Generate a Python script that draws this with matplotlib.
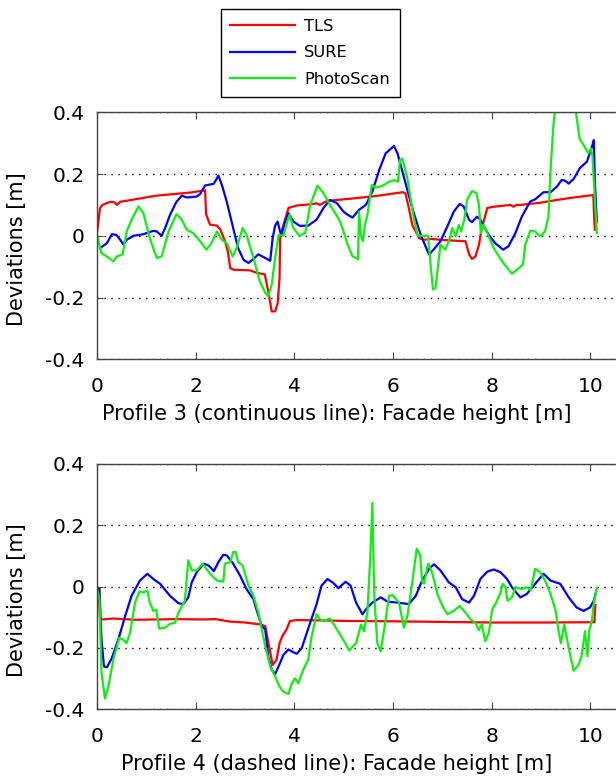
import matplotlib
matplotlib.use('Agg')
import matplotlib.pyplot as plt

plt.rcParams['font.family'] = ['DejaVu Sans']

# Profile 3 (continuous line)
p3_tls_x = [0.0, 0.06, 0.11, 0.27, 0.36, 0.40, 0.47, 1.21, 1.89, 2.19, 2.21, 2.29, 2.43, 2.5, 2.6, 2.65, 2.70,
            2.77, 3.1, 3.24, 3.4, 3.47, 3.54, 3.61, 3.66, 3.70, 3.71, 3.75, 3.88, 4.05, 4.32, 4.45, 4.52, 4.66,
            5.13, 5.62, 6.19, 6.25, 6.32, 6.39, 6.53, 6.63, 6.76, 6.96, 7.27, 7.47, 7.54, 7.6, 7.67, 7.74, 7.8,
            7.91, 8.04, 8.38, 8.44, 8.5, 8.58, 8.98, 9.32, 9.66, 10.06, 10.07, 10.09]
p3_tls_y = [0.01, 0.09, 0.10, 0.11, 0.108, 0.10, 0.11, 0.13, 0.14, 0.147, 0.07, 0.036, 0.033, 0.02, -0.02, -0.05,
            -0.105, -0.11, -0.112, -0.12, -0.125, -0.18, -0.245, -0.245, -0.22, -0.137, -0.01, 0.02, 0.09, 0.098,
            0.102, 0.105, 0.10, 0.113, 0.12, 0.128, 0.141, 0.138, 0.09, 0.035, -0.008, -0.013, -0.01, -0.013,
            -0.016, -0.018, -0.06, -0.075, -0.067, -0.03, 0.025, 0.09, 0.094, 0.10, 0.094, 0.10, 0.10, 0.107,
            0.116, 0.124, 0.132, 0.08, 0.02]

p3_sure_x = [0.06, 0.2, 0.3, 0.39, 0.47, 0.53, 0.6, 0.74, 0.94, 1.14, 1.21, 1.31, 1.38, 1.48, 1.61, 1.72, 1.82,
             2.02, 2.09, 2.19, 2.36, 2.41, 2.46, 2.53, 2.63, 2.76, 2.86, 2.97, 3.07, 3.17, 3.27, 3.34, 3.41, 3.51,
             3.56, 3.61, 3.66, 3.71, 3.74, 3.8, 3.88, 3.98, 4.11, 4.28, 4.45, 4.59, 4.72, 4.86, 4.99, 5.08, 5.18,
             5.31, 5.45, 5.58, 5.72, 5.85, 6.02, 6.09, 6.19, 6.29, 6.39, 6.56, 6.73, 6.83, 6.96, 7.1, 7.23, 7.35,
             7.43, 7.54, 7.6, 7.7, 7.77, 7.84, 7.94, 8.07, 8.23, 8.34, 8.48, 8.61, 8.78, 8.88, 9.05, 9.19, 9.32,
             9.42, 9.49, 9.56, 9.66, 9.79, 9.93, 10.03, 10.07, 10.09, 10.13]
p3_sure_y = [-0.04, -0.024, 0.005, 0.003, -0.013, -0.027, -0.013, 0.0, 0.005, 0.016, 0.014, 0.0, 0.025, 0.068,
             0.11, 0.13, 0.124, 0.127, 0.135, 0.163, 0.168, 0.18, 0.195, 0.165, 0.11, 0.025, -0.04, -0.078, -0.088,
             -0.075, -0.06, -0.066, -0.072, -0.081, -0.008, 0.033, 0.046, 0.014, 0.0, 0.04, 0.073, 0.046, 0.032,
             0.033, 0.052, 0.09, 0.116, 0.106, 0.079, 0.068, 0.059, 0.084, 0.1, 0.143, 0.213, 0.267, 0.291, 0.267,
             0.208, 0.148, 0.089, 0.003, -0.061, -0.043, -0.018, 0.03, 0.078, 0.103, 0.095, 0.052, 0.044, 0.062,
             0.052, 0.03, 0.003, -0.024, -0.045, -0.034, 0.009, 0.062, 0.111, 0.118, 0.141, 0.141, 0.159, 0.181,
             0.178, 0.169, 0.184, 0.22, 0.24, 0.288, 0.31, 0.175, 0.046]

p3_ps_x = [0.0, 0.09, 0.2, 0.33, 0.4, 0.52, 0.6, 0.7, 0.84, 0.94, 1.07, 1.21, 1.31, 1.45, 1.61, 1.72, 1.82, 1.95,
           2.09, 2.22, 2.32, 2.43, 2.53, 2.63, 2.75, 2.83, 2.95, 3.03, 3.17, 3.3, 3.41, 3.47, 3.54, 3.61, 3.68,
           3.78, 3.84, 3.9, 3.98, 4.1, 4.22, 4.32, 4.47, 4.59, 4.72, 4.89, 4.94, 5.03, 5.08, 5.18, 5.29, 5.31,
           5.35, 5.39, 5.43, 5.48, 5.57, 5.65, 5.78, 5.92, 6.02, 6.1, 6.14, 6.19, 6.29, 6.42, 6.5, 6.71, 6.76,
           6.81, 6.86, 6.93, 6.96, 7.06, 7.15, 7.2, 7.27, 7.33, 7.38, 7.45, 7.5, 7.6, 7.69, 7.74, 7.78, 7.83,
           7.91, 8.04, 8.21, 8.41, 8.51, 8.63, 8.68, 8.78, 8.88, 8.98, 9.08, 9.15, 9.19, 9.25, 9.29, 9.4, 9.6,
           9.69, 9.78, 9.86, 9.96, 10.01, 10.04, 10.08, 10.13]
p3_ps_y = [0.0, -0.056, -0.067, -0.083, -0.067, -0.06, 0.014, 0.052, 0.095, 0.073, -0.008, -0.072, -0.067, 0.014,
           0.07, 0.052, 0.019, 0.009, -0.018, -0.045, -0.024, 0.014, -0.013, -0.024, -0.067, -0.04, 0.025, 0.003,
           -0.072, -0.148, -0.185, -0.196, -0.158, -0.072, 0.003, 0.0, 0.036, 0.068, 0.025, 0.0, 0.009, 0.1, 0.162,
           0.138, 0.1, 0.057, 0.041, -0.002, -0.029, -0.067, -0.075, 0.078, 0.0, -0.018, 0.035, 0.068, 0.165,
           0.156, 0.161, 0.175, 0.18, 0.175, 0.245, 0.25, 0.186, 0.057, 0.0, 0.0, -0.094, -0.174, -0.17, -0.072,
           -0.029, -0.045, -0.008, 0.025, -0.002, 0.035, 0.014, 0.057, 0.116, 0.145, 0.138, 0.1, 0.009, 0.036,
           0.009, -0.04, -0.083, -0.123, -0.11, -0.094, -0.029, 0.016, 0.014, -0.002, 0.014, 0.062, 0.207, 0.358,
           0.42, 0.5, 0.5, 0.42, 0.315, 0.294, 0.267, 0.283, 0.26, 0.148, 0.009]

# Profile 4 (dashed line)
p4_tls_x = [0.0, 0.03, 0.06, 0.09, 0.33, 0.8, 1.2, 1.6, 2.16, 2.4, 2.7, 3.0, 3.3, 3.41, 3.47, 3.56, 3.64, 3.7,
            3.76, 3.84, 3.91, 4.05, 4.5, 5.13, 6.0, 7.0, 8.0, 9.0, 10.08, 10.1]
p4_tls_y = [0.0, -0.02, -0.1, -0.107, -0.104, -0.108, -0.107, -0.106, -0.107, -0.106, -0.114, -0.117, -0.123,
            -0.129, -0.18, -0.255, -0.238, -0.184, -0.16, -0.14, -0.112, -0.109, -0.11, -0.112, -0.113, -0.115,
            -0.117, -0.117, -0.116, -0.06]

p4_sure_x = [0.05, 0.09, 0.14, 0.2, 0.3, 0.43, 0.57, 0.7, 0.87, 1.02, 1.14, 1.28, 1.48, 1.65, 1.75, 1.85, 1.92,
             2.02, 2.16, 2.26, 2.37, 2.46, 2.56, 2.63, 2.76, 2.9, 3.03, 3.17, 3.24, 3.34, 3.41, 3.47, 3.54, 3.61,
             3.68, 3.78, 3.88, 3.98, 4.05, 4.15, 4.32, 4.45, 4.55, 4.67, 4.79, 4.89, 5.04, 5.14, 5.25, 5.38, 5.48,
             5.58, 5.75, 5.89, 6.09, 6.32, 6.46, 6.59, 6.73, 6.83, 6.96, 7.13, 7.27, 7.4, 7.54, 7.64, 7.77, 7.91,
             8.04, 8.18, 8.31, 8.41, 8.58, 8.71, 8.88, 9.05, 9.19, 9.39, 9.56, 9.72, 9.86, 9.99, 10.07, 10.11]
p4_sure_y = [-0.008, -0.17, -0.26, -0.263, -0.233, -0.173, -0.096, -0.03, 0.02, 0.042, 0.025, 0.009, -0.03,
             -0.054, -0.057, -0.035, 0.014, 0.047, 0.075, 0.069, 0.051, 0.08, 0.104, 0.102, 0.075, 0.036, -0.008,
             -0.041, -0.079, -0.129, -0.14, -0.227, -0.271, -0.285, -0.26, -0.222, -0.205, -0.214, -0.219, -0.2,
             -0.118, -0.057, 0.003, 0.025, 0.012, -0.005, 0.016, 0.003, -0.052, -0.09, -0.068, -0.052, -0.035,
             -0.049, -0.052, -0.057, -0.03, 0.02, 0.058, 0.073, 0.053, 0.014, -0.002, -0.041, -0.052, -0.03, 0.025,
             0.049, 0.056, 0.047, 0.025, -0.002, -0.035, -0.024, 0.009, 0.042, 0.02, 0.009, -0.035, -0.068, -0.079,
             -0.068, -0.046, -0.019]

p4_ps_x = [0.0, 0.05, 0.09, 0.16, 0.23, 0.33, 0.45, 0.53, 0.6, 0.67, 0.77, 0.86, 0.94, 1.02, 1.07, 1.14, 1.2,
           1.26, 1.38, 1.48, 1.58, 1.65, 1.78, 1.85, 1.92, 2.02, 2.14, 2.29, 2.43, 2.56, 2.59, 2.7, 2.76, 2.81,
           2.86, 2.95, 3.07, 3.17, 3.27, 3.34, 3.41, 3.51, 3.61, 3.7, 3.78, 3.88, 3.95, 4.01, 4.08, 4.18, 4.28,
           4.35, 4.45, 4.52, 4.59, 4.72, 4.82, 4.99, 5.11, 5.25, 5.35, 5.41, 5.48, 5.54, 5.58, 5.62, 5.68, 5.75,
           5.82, 5.92, 5.99, 6.12, 6.22, 6.29, 6.39, 6.48, 6.55, 6.59, 6.63, 6.71, 6.79, 6.9, 7.0, 7.1, 7.23,
           7.35, 7.47, 7.57, 7.67, 7.74, 7.8, 7.87, 7.94, 8.01, 8.09, 8.18, 8.22, 8.28, 8.32, 8.41, 8.48, 8.61,
           8.71, 8.79, 8.88, 8.98, 9.08, 9.18, 9.29, 9.35, 9.4, 9.47, 9.56, 9.66, 9.76, 9.82, 9.89, 9.94, 9.98,
           10.03, 10.07, 10.13]
p4_ps_y = [-0.008, -0.04, -0.28, -0.365, -0.326, -0.238, -0.167, -0.173, -0.184, -0.15, -0.052, -0.016, -0.019,
           -0.013, -0.052, -0.079, -0.075, -0.137, -0.134, -0.121, -0.118, -0.085, -0.046, 0.086, 0.053, 0.053,
           0.075, 0.042, 0.02, 0.016, 0.075, 0.08, 0.113, 0.113, 0.08, 0.069, 0.003, -0.03, -0.085, -0.14, -0.195,
           -0.26, -0.293, -0.326, -0.343, -0.35, -0.315, -0.299, -0.315, -0.271, -0.238, -0.162, -0.09, -0.107,
           -0.112, -0.104, -0.129, -0.173, -0.208, -0.184, -0.124, -0.145, -0.085, 0.102, 0.273, -0.03, -0.184,
           -0.211, -0.14, -0.03, -0.027, -0.052, -0.134, -0.096, 0.014, 0.124, 0.102, 0.014, 0.01, 0.075, 0.047,
           -0.024, -0.063, -0.09, -0.079, -0.063, -0.085, -0.107, -0.118, -0.142, -0.123, -0.178, -0.151, -0.074,
           -0.052, -0.019, 0.009, -0.002, -0.046, -0.035, -0.002, -0.008, -0.002, -0.013, 0.058, 0.047, 0.02,
           -0.019, -0.074, -0.14, -0.184, -0.123, -0.2, -0.274, -0.255, -0.227, -0.145, -0.227, -0.14, -0.112,
           -0.052, -0.004]

series_names = ['TLS', 'SURE', 'PhotoScan']
series_colors = ['#ff0000', '#0000ff', '#11ee11']
y_ticks = [-0.4, -0.2, 0, 0.2, 0.4]
y_tick_labels = ['-0.4', '-0.2', '0', '0.2', '0.4']
x_ticks = [0, 2, 4, 6, 8, 10]

fig = plt.figure(figsize=(6.16, 7.78), dpi=100)
ax1 = fig.add_axes([0.1575, 0.5382, 0.849, 0.3175])
ax2 = fig.add_axes([0.1575, 0.0883, 0.849, 0.3153])

profiles = [
    (ax1, [(p3_tls_x, p3_tls_y), (p3_sure_x, p3_sure_y), (p3_ps_x, p3_ps_y)],
     'Profile 3 (continuous line): Facade height [m]'),
    (ax2, [(p4_tls_x, p4_tls_y), (p4_sure_x, p4_sure_y), (p4_ps_x, p4_ps_y)],
     'Profile 4 (dashed line): Facade height [m]'),
]

for ax, series, xlabel in profiles:
    for (xs, ys), name, color in zip(series, series_names, series_colors):
        ax.plot(xs, ys, color=color, lw=1.6, label=name)
    ax.set_xlim(0, 10.6)
    ax.set_ylim(-0.4, 0.4)
    ax.set_xticks(x_ticks)
    ax.set_yticks(y_ticks)
    ax.set_yticklabels(y_tick_labels)
    ax.yaxis.grid(True, linestyle=(0, (1, 4)), color='black', lw=1.0)
    ax.tick_params(axis='x', direction='in', length=5, top=True, pad=12.5, labelsize=14.5, colors='#444444',
                   labelcolor='black')
    ax.tick_params(axis='y', direction='in', length=4, pad=9, labelsize=14.5, colors='#444444',
                   labelcolor='black')
    for sp in ax.spines.values():
        sp.set_color('#444444')
        sp.set_linewidth(1.0)
    ax.set_xlabel(xlabel, fontsize=15)
    ax.set_ylabel('Deviations [m]', fontsize=15)
    h = ax.get_position().height * 778
    ax.xaxis.set_label_coords(0.459, -45 / h)
    ax.yaxis.set_label_coords(-0.134, 0.447)

handles, labels = ax1.get_legend_handles_labels()
leg = fig.legend(handles, labels, loc='upper left', bbox_to_anchor=(0.358, 0.988), fontsize=11.7,
                 handlelength=4.0, handletextpad=0.55, labelspacing=0.7, borderpad=0.6, borderaxespad=0,
                 fancybox=False, framealpha=1, edgecolor='black')
leg.get_frame().set_linewidth(1.0)

fig.savefig('out.png', dpi=100)
